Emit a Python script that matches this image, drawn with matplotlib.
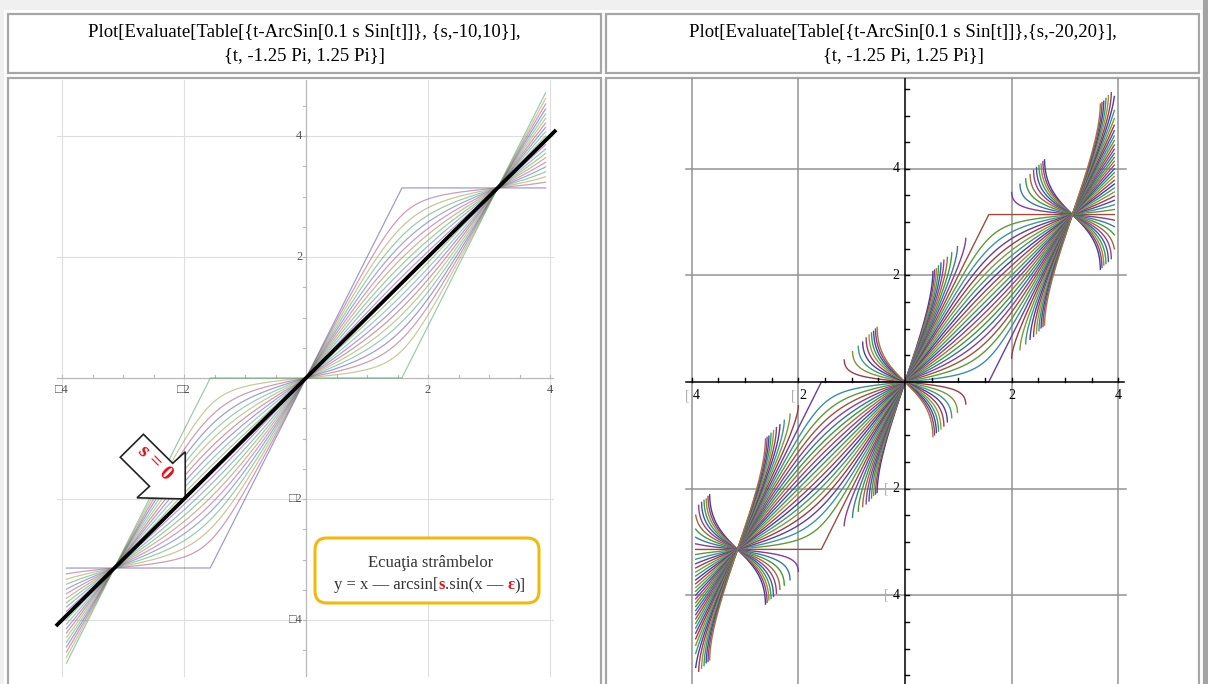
import numpy as np
import matplotlib
matplotlib.use("Agg")
import matplotlib.pyplot as plt
from matplotlib.colors import hsv_to_rgb
from matplotlib.patches import Rectangle, FancyBboxPatch, Polygon

# --- data -------------------------------------------------------------
# both panels plot the family y = t - arcsin(0.1 s sin t) named in the headers
s_left = list(range(-10, 11))          # {s,-10,10}
s_right = list(range(-20, 21))         # {s,-20,20}
t_lo, t_hi = -1.25 * np.pi, 1.25 * np.pi
grid_vals = [-4, -2, 2, 4]
minor_x = [-4, -3.5, -3, -2.5, -2, -1.5, -1, -0.5, 0.5, 1, 1.5, 2, 2.5, 3, 3.5, 4]
minor_y = [-5.5, -5, -4.5, -4, -3.5, -3, -2.5, -2, -1.5, -1, -0.5,
           0.5, 1, 1.5, 2, 2.5, 3, 3.5, 4, 4.5, 5, 5.5]
header_left = ["Plot[Evaluate[Table[{t-ArcSin[0.1 s Sin[t]]}, {s,-10,10}],",
               "{t, -1.25 Pi, 1.25 Pi}]"]
header_right = ["Plot[Evaluate[Table[{t-ArcSin[0.1 s Sin[t]]},{s,-20,20}],",
                "{t, -1.25 Pi, 1.25 Pi}]"]

SERIF = ["Liberation Serif", "DejaVu Serif", "DejaVu Sans"]
W, H = 1208, 684


def mma_color(k):
    # old Mathematica default plot style: Hue[0.67 + k*2*GoldenRatio, 0.6, 0.6]
    return hsv_to_rgb(((0.67 + 0.2360679775 * k) % 1.0, 0.6, 0.6))


def family(s, t):
    arg = 0.1 * s * np.sin(t)
    y = np.full_like(t, np.nan)
    ok = np.abs(arg) <= 1.0
    y[ok] = t[ok] - np.arcsin(arg[ok])
    return y


fig = plt.figure(figsize=(W / 100, H / 100), dpi=100, facecolor="#f0f0f0")


def px_axes(x0, y0, x1, y1, z):
    ax = fig.add_axes([x0 / W, 1 - y1 / H, (x1 - x0) / W, (y1 - y0) / H])
    ax.set_zorder(z)
    ax.axis("off")
    ax.patch.set_visible(False)
    return ax


# --- page / table cells ----------------------------------------------
bg = px_axes(0, 0, W, H, 0)
bg.set_xlim(0, W)
bg.set_ylim(H, 0)
bg.add_patch(Rectangle((4, 10), 1198, 680, fc="white", ec="none"))
bg.add_patch(Rectangle((1203, 0), 5, H, fc="#a3a3a3", ec="none"))
for x0 in (8, 606):
    bg.add_patch(Rectangle((x0, 14), 593, 59, fc="white", ec="#a6a6a6", lw=1.6))
    bg.add_patch(Rectangle((x0, 78), 593, 640, fc="white", ec="#a6a6a6", lw=1.6))
for xc, lines in ((304, header_left), (903, header_right)):
    bg.text(xc, 33, lines[0], ha="center", va="center", family=SERIF, fontsize=13.5)
    bg.text(xc, 57, lines[1], ha="center", va="center", family=SERIF, fontsize=13.5)

t = np.linspace(t_lo, t_hi, 20001)

# --- left panel -------------------------------------------------------
ox, sx, oy, sy = 306, 61.0, 378, 60.5
la = px_axes(10, 80, 600, 684, 1)
la.set_xlim((10 - ox) / sx, (600 - ox) / sx)
la.set_ylim((oy - 684) / sy, (oy - 80) / sy)
gc = "#dedede"
for v in grid_vals:
    la.plot([v, v], [-4.93, 4.95], color=gc, lw=0.8, zorder=1)
    la.plot([-4.08, 4.05], [v, v], color=gc, lw=0.8, zorder=1)
la.plot([-4.08, 4.05], [0, 0], color="#b8b8b8", lw=0.9, zorder=1)
la.plot([0, 0], [-4.93, 4.95], color="#b8b8b8", lw=0.9, zorder=1)
for v in minor_x:
    la.plot([v, v], [0, 0.05], color="#b8b8b8", lw=0.8, zorder=1)
for v in minor_y:
    if abs(v) < 4.9:
        la.plot([-0.05, 0], [v, v], color="#b8b8b8", lw=0.8, zorder=1)
for v in grid_vals:
    lab = ("\u25a1" if v < 0 else "") + str(abs(v))
    la.text(-0.06, v, lab, ha="right", va="center", family=SERIF,
            fontsize=9, color="#555555")
    la.text(v, -0.1, lab, ha="center", va="top", family=SERIF,
            fontsize=9, color="#555555")

for k, s in enumerate(s_left):
    la.plot(t, family(s, t), color=mma_color(k), lw=0.9, alpha=0.5, zorder=2)

# pointer arrow "s = 0"
arrow = [(-1.98, -2.0), (-1.98, -1.22), (-2.185, -1.41), (-2.665, -0.93),
         (-3.045, -1.31), (-2.565, -1.79), (-2.77, -1.98)]
la.add_patch(Polygon(arrow, closed=True, fc="white", ec="#222222", lw=1.2, zorder=3))
la.text(-2.47, -1.41, "s = 0", rotation=-45, ha="center", va="center",
        family=SERIF, fontweight="bold", fontsize=15, color="#e0101a", zorder=4)

# s = 0 line
la.plot([-4.1, 4.1], [-4.1, 4.1], color="black", lw=2.7, zorder=5,
        solid_capstyle="butt")

# --- right panel ------------------------------------------------------
ox, sx, oy, sy = 905, 53.3, 382, 53.3
ra = px_axes(608, 78, 1199, 684, 1)
ra.set_xlim((608 - ox) / sx, (1199 - ox) / sx)
ra.set_ylim((oy - 684) / sy, (oy - 78) / sy)
gc = "#939393"
for v in grid_vals:
    ra.plot([v, v], [-6, 6], color=gc, lw=1.1, zorder=1)
    ra.plot([-4.1, 4.15], [v, v], color=gc, lw=1.1, zorder=1)
ra.plot([-4.1, 4.1], [0, 0], color="black", lw=1.1, zorder=3)
ra.plot([0, 0], [-6, 6], color="black", lw=1.1, zorder=3)
for v in minor_x:
    ra.plot([v, v], [0, 0.08], color="black", lw=1.0, zorder=3)
for v in minor_y:
    ra.plot([0, 0.08], [v, v], color="black", lw=1.0, zorder=3)
for v in grid_vals:
    if v > 0:
        ra.text(v, -0.14, str(v), ha="center", va="top", family=SERIF, fontsize=10)
        ra.text(-0.1, v, str(v), ha="right", va="center", family=SERIF, fontsize=10)
    else:
        ra.text(v + 0.02, -0.14, str(-v), ha="left", va="top", family=SERIF, fontsize=10)
        ra.text(v - 0.05, -0.14, "[", ha="right", va="top", family=SERIF,
                fontsize=10, color="#b0b0b0")
        ra.text(-0.1, v, str(-v), ha="right", va="center", family=SERIF, fontsize=10)
        ra.text(-0.3, v, "[", ha="right", va="center", family=SERIF,
                fontsize=10, color="#b0b0b0")

for k, s in enumerate(s_right):
    ra.plot(t, family(s, t), color=mma_color(k), lw=1.0, zorder=2)

# --- caption box ------------------------------------------------------
top = px_axes(0, 0, W, H, 5)
top.set_xlim(0, W)
top.set_ylim(H, 0)
top.add_patch(FancyBboxPatch((315, 538), 224, 65,
                             boxstyle="round,pad=0,rounding_size=12",
                             fc="white", ec="#f3b80a", lw=2.2))
top.text(431, 567, "Ecua\u0163ia str\u00e2mbelor", ha="center", va="baseline",
         family=SERIF, fontsize=12, color="#333333")

pieces = [("y = x \u2014 arcsin[", "#333333", "normal", 0),
          ("s", "#e0101a", "bold", 0),
          (".sin(x \u2014", "#333333", "normal", 0),
          ("\u03b5", "#e0101a", "bold", 4),
          (")]", "#333333", "normal", 0)]
renderer = fig.canvas.get_renderer()
arts, widths = [], []
for txt, col, wt, gap in pieces:
    a = top.text(0, 589, txt, ha="left", va="baseline", family=SERIF,
                 fontsize=12, color=col, fontweight=wt)
    arts.append((a, gap))
    widths.append(a.get_window_extent(renderer).width + gap)
x = 430 - sum(widths) / 2
for (a, gap), w in zip(arts, widths):
    a.set_x(x + gap)
    x += w

fig.savefig("out.png", dpi=100, facecolor=fig.get_facecolor())
